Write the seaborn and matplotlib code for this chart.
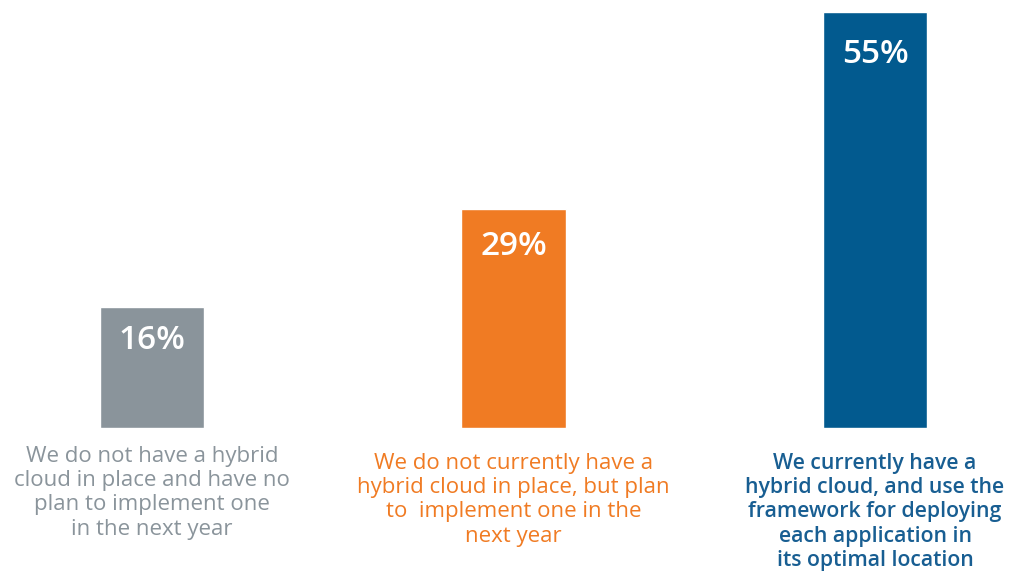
import matplotlib
matplotlib.use("Agg")
import matplotlib.pyplot as plt
import seaborn as sns
import pandas as pd

categories = [
    "We do not have a hybrid\ncloud in place and have no\nplan to implement one\nin the next year",
    "We do not currently have a\nhybrid cloud in place, but plan\nto  implement one in the\nnext year",
    "We currently have a\nhybrid cloud, and use the\nframework for deploying\neach application in\nits optimal location",
]
values = [16, 29, 55]
value_labels = ["16%", "29%", "55%"]
bar_colors = ["#8A949B", "#F07B23", "#025A8F"]
text_colors = ["#8A949B", "#F07B23", "#185E92"]

sns.set_theme(style="white")
plt.rcParams["font.family"] = ["Open Sans", "DejaVu Sans"]

df = pd.DataFrame({"cat": categories, "val": values})

fig = plt.figure(figsize=(10.13, 5.71), dpi=100)
ax = fig.add_axes([0, (571 - 428) / 571, 1, 416 / 571])
sns.barplot(data=df, x="cat", y="val", hue="cat", palette=bar_colors,
            legend=False, width=0.288, ax=ax, saturation=1)

ax.set_xlim(-152 / 361.5, (1013 - 152) / 361.5)
ax.set_ylim(0, 55)
ax.axis("off")

pct_offsets = [-12.5, -15.5, -18.5]
for i, (v, lab) in enumerate(zip(values, value_labels)):
    ax.annotate(lab, xy=(i, v), xytext=(0, pct_offsets[i]), textcoords="offset points",
                ha="center", va="top", color="white", fontsize=24,
                fontweight="semibold")

offsets = [-13, -18, -18]
sizes = [16, 16, 15.3]
for i, (cat, c) in enumerate(zip(categories, text_colors)):
    ax.annotate(cat, xy=(i, 0), xytext=(0, offsets[i]), textcoords="offset points",
                ha="center", va="top", color=c, fontsize=sizes[i],
                linespacing=1.2, annotation_clip=False,
                fontweight="semibold" if i == 2 else "normal")

fig.savefig("out.png", dpi=100)
